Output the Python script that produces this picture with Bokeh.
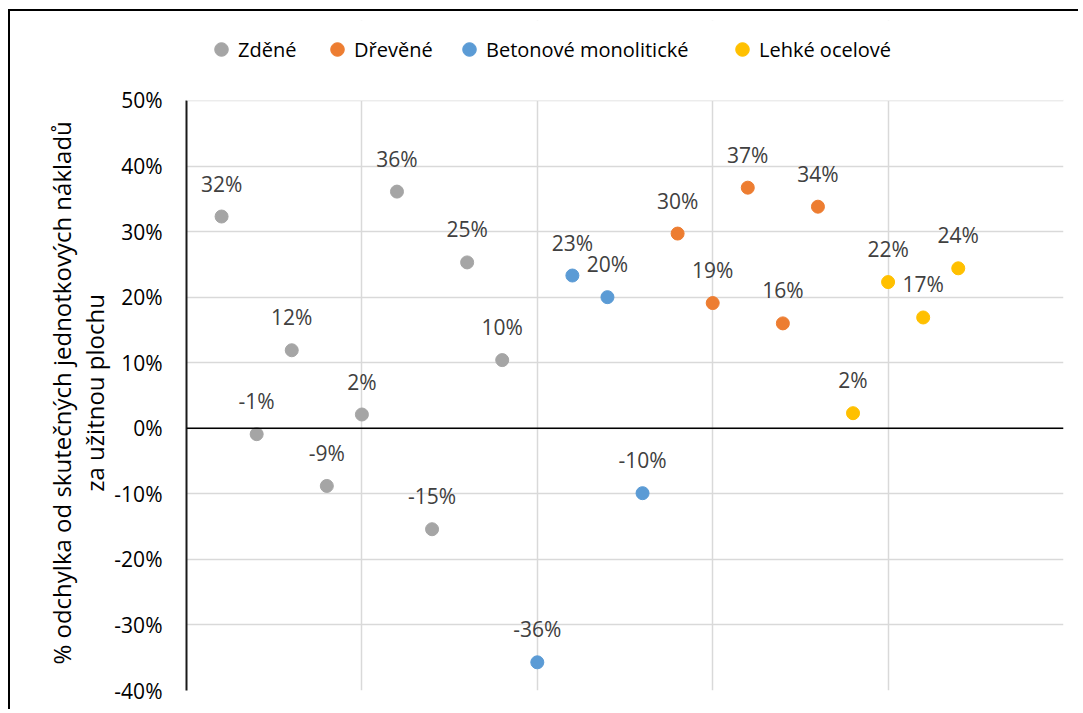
from bokeh.plotting import figure
from bokeh.models import (ColumnDataSource, Legend, LegendItem, FixedTicker,
                          NumeralTickFormatter, Span, Range1d, BoxAnnotation)
from bokeh.core.properties import value
from bokeh.embed import file_html
from bokeh.resources import INLINE

# ---- data ----
series_names = ["Zděné", "Dřevěné", "Betonové monolitické", "Lehké ocelové"]
series_colors = ["#A5A5A5", "#ED7D31", "#5B9BD5", "#FFC000"]

zdene_x = [1, 2, 3, 4, 5, 6, 7, 8, 9]
zdene_y = [0.323, -0.009, 0.119, -0.088, 0.021, 0.361, -0.154, 0.253, 0.104]

drevene_x = [14, 15, 16, 17, 18]
drevene_y = [0.297, 0.191, 0.367, 0.160, 0.338]

beton_x = [10, 11, 12, 13]
beton_y = [-0.357, 0.233, 0.200, -0.099]

ocel_x = [19, 20, 21, 22]
ocel_y = [0.023, 0.223, 0.169, 0.244]

y_ticks = [-0.4, -0.3, -0.2, -0.1, 0.0, 0.1, 0.2, 0.3, 0.4, 0.5]
x_grid_ticks = [0, 5, 10, 15, 20, 25]
y_min, y_max = -0.4, 0.5
y_view_max = 0.622   # extra head-room inside the frame for the legend

y_title_lines = ["% odchylka od skutečných jednotkových nákladů",
                 "za užitnou plochu"]

# legend item positions (screen px from the frame's left edge)
legend_x = [18, 134, 266, 539]

FONT = "Open Sans"

p = figure(width=1070, height=700, output_backend="svg", toolbar_location=None,
           x_range=Range1d(0, 25), y_range=Range1d(y_min, y_view_max),
           min_border_left=176, min_border_top=9, min_border_right=17,
           min_border_bottom=21)
p.margin = (9, 0, 0, 8)
p.styles = {"border-top": "2px solid black", "border-left": "2px solid black"}
p.outline_line_color = None
p.background_fill_color = "white"
p.border_fill_color = "white"

# axes
p.xaxis.visible = False
p.yaxis.bounds = (y_min, y_max)
p.yaxis.ticker = FixedTicker(ticks=y_ticks)
p.yaxis.formatter = NumeralTickFormatter(format="0%")
p.yaxis.major_tick_line_color = None
p.yaxis.minor_tick_line_color = None
p.yaxis.axis_line_color = "#1a1a1a"
p.yaxis.axis_line_width = 2
p.yaxis.major_label_text_font = FONT
p.yaxis.major_label_text_font_size = "21px"
p.yaxis.major_label_text_color = "#000000"
p.yaxis.major_label_standoff = 18
# pad both lines with no-break spaces so the centred title sits over the 50%..-40% span
pad = "\u00a0" * 12
p.yaxis.axis_label = "\n".join(line + pad for line in y_title_lines)
p.yaxis.axis_label_text_font = FONT
p.yaxis.axis_label_text_font_size = "24px"
p.yaxis.axis_label_text_line_height = 1.0
p.yaxis.axis_label_text_font_style = "normal"
p.yaxis.axis_label_text_color = "#000000"
p.yaxis.axis_label_standoff = 0

# grids
p.xgrid.ticker = FixedTicker(ticks=x_grid_ticks)
p.ygrid.ticker = FixedTicker(ticks=y_ticks)
for g in (p.xgrid, p.ygrid):
    g.grid_line_color = "#d9d9d9"
    g.grid_line_width = 1.5

zero = Span(location=0, dimension="width", line_color="#000000", line_width=1.5)
p.add_layout(zero)

all_series = [
    (zdene_x, zdene_y),
    (drevene_x, drevene_y),
    (beton_x, beton_y),
    (ocel_x, ocel_y),
]

renderers = []
for name, color, (xs, ys) in zip(series_names, series_colors, all_series):
    labels = [f"{round(v * 100)}%" for v in ys]
    src = ColumnDataSource(dict(x=xs, y=ys, label=labels))
    r = p.scatter("x", "y", source=src, marker="circle", size=13,
                  fill_color=color, line_color=color)
    p.text("x", "y", text="label", source=src, y_offset=-33,
           text_align="center", text_baseline="middle",
           text_font=value(FONT), text_font_size="21px", text_color="#404040")
    renderers.append(r)

# white cover for the head-room above the 50 % gridline
cover = BoxAnnotation(bottom=y_max, fill_color="white", fill_alpha=1.0,
                      line_color=None)
p.add_layout(cover)

for name, r, lx in zip(series_names, renderers, legend_x):
    lg = Legend(items=[LegendItem(label=name, renderers=[r])],
                orientation="horizontal", location=(lx, 624),
                padding=0, margin=0, spacing=0, label_standoff=-4,
                glyph_width=34, glyph_height=34, label_height=34,
                label_text_font=FONT, label_text_font_size="20px",
                label_text_color="#000000", border_line_color=None,
                background_fill_alpha=0)
    p.add_layout(lg, "center")

open("out.html", "w").write(file_html(p, INLINE))
